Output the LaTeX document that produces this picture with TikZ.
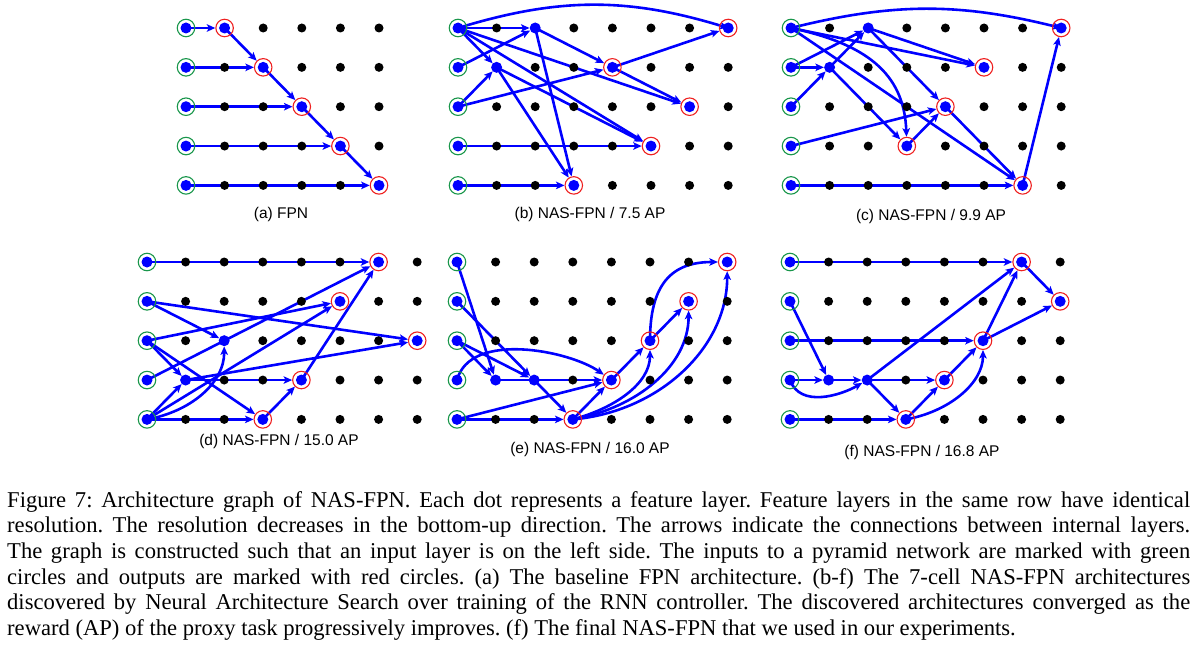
\documentclass[tikz,border=0pt]{standalone}
\usepackage{fontspec}
\setmainfont{Liberation Serif}
\newfontfamily\labelfont{Liberation Sans}
\usetikzlibrary{arrows.meta,backgrounds}

\definecolor{ingreen}{RGB}{25,150,75}
\definecolor{outred}{RGB}{238,32,32}

\tikzset{
  dot/.style={circle,fill=black,inner sep=0pt,minimum size=9pt},
  feat/.style={circle,fill=blue,inner sep=0pt,minimum size=11pt},
  ring/.style={circle,inner sep=0pt,minimum size=17.5pt,line width=1.1pt,
    path picture={\fill[blue] (path picture bounding box.center) circle (5.5pt);}},
  inp/.style={ring,draw=ingreen},
  outp/.style={ring,draw=outred},
  conn/.style={blue,line width=2.6pt,-{Stealth[length=8.5pt,width=7.5pt,inset=2pt]}},
  sublabel/.style={inner sep=0pt,font=\labelfont\fontsize{15.5}{18}\selectfont},
  caption/.style={inner sep=0pt,text width=1183pt,font=\fontsize{22.6}{25.7}\selectfont},
}

% grid of feature layers, 5 rows, columns 0..#1
\newcommand{\dotgrid}[1]{%
  \foreach \c in {0,...,#1}
    \foreach \r in {0,...,4}
      \node[dot] (n\c\r) at (\c*38.6,-\r*39.35) {};
  \foreach \r in {0,...,4}
    \node[inp] (n0\r) at (n0\r) {};
}
% one justified caption line
\newcommand{\capline}[1]{\makebox[1183pt][s]{#1}}

\begin{document}
\begin{tikzpicture}[x=1pt,y=1pt]
\useasboundingbox (0,-658) rectangle (1202,0);

% (a)
\begin{scope}[shift={(186,-28)},name prefix=a-]
\dotgrid{5}
\foreach \n in {n10,n21,n32,n43,n54} \node[outp] (\n) at (\n) {};
\begin{scope}[on background layer]
\foreach \s/\t in {n00/n10,n01/n21,n02/n32,n03/n43,n04/n54,
                   n10/n21,n21/n32,n32/n43,n43/n54}
  \draw[conn] (\s.center) -- (\t);
\end{scope}
\end{scope}

% (b)
\begin{scope}[shift={(458,-28)},name prefix=b-]
\dotgrid{7}
\foreach \n in {n20,n11} \node[feat] (\n) at (\n) {};
\foreach \n in {n70,n41,n62,n53,n34} \node[outp] (\n) at (\n) {};
\begin{scope}[on background layer]
\foreach \s/\t in {n00/n20,n01/n20,n00/n11,n02/n11,n02/n41,n20/n41,
                   n00/n62,n41/n62,n41/n70,n00/n53,n11/n53,n03/n53,
                   n04/n34,n20/n34,n11/n34}
  \draw[conn] (\s.center) -- (\t);
\draw[conn] (n00.center) to[bend left=17] (n70);
\end{scope}
\end{scope}

% (c)
\begin{scope}[shift={(791,-28)},name prefix=c-]
\dotgrid{7}
\foreach \n in {n20,n11} \node[feat] (\n) at (\n) {};
\foreach \n in {n70,n51,n42,n33,n64} \node[outp] (\n) at (\n) {};
\begin{scope}[on background layer]
\foreach \s/\t in {n01/n11,n02/n11,n01/n20,n11/n20,n00/n51,n20/n51,
                   n20/n42,n11/n33,n03/n42,n33/n42,n00/n64,n42/n64,
                   n04/n64,n64/n70}
  \draw[conn] (\s.center) -- (\t);
\draw[conn] (n00.center) to[bend left=14] (n70);
\draw[conn] (n00.center) to[out=-12,in=92,looseness=1.15] (n33);
\end{scope}
\end{scope}

% (d)
\begin{scope}[shift={(147,-262)},name prefix=d-]
\dotgrid{7}
\foreach \n in {n22,n13} \node[feat] (\n) at (\n) {};
\foreach \n in {n60,n51,n72,n43,n34} \node[outp] (\n) at (\n) {};
\begin{scope}[on background layer]
\foreach \s/\t in {n00/n60,n01/n22,n01/n72,n02/n51,n02/n13,n02/n34,
                   n03/n60,n04/n13,n04/n51,n04/n34,n13/n43,n13/n72,
                   n34/n43,n43/n60}
  \draw[conn] (\s.center) -- (\t);
\draw[conn] (n04.center) to[out=10,in=-90] (n22);
\end{scope}
\end{scope}

% (e)
\begin{scope}[shift={(457,-262)},name prefix=e-]
\dotgrid{7}
\foreach \n in {n13,n23} \node[feat] (\n) at (\n) {};
\foreach \n in {n70,n61,n52,n43,n34} \node[outp] (\n) at (\n) {};
\begin{scope}[on background layer]
\foreach \s/\t in {n00/n13,n02/n13,n01/n23,n02/n23,n13/n43,n23/n34,
                   n04/n34,n04/n43,n34/n43,n43/n52,n52/n61}
  \draw[conn] (\s.center) -- (\t);
\draw[conn] (n03.center) to[out=75,in=145,looseness=0.85] (n43);
\draw[conn] (n52.center) to[out=90,in=180,looseness=1.3] (n70);
\draw[conn] (n34.center) to[out=15,in=-90] (n52);
\draw[conn] (n34.center) to[out=10,in=-90] (n61);
\draw[conn] (n34.center) to[out=5,in=-90] (n70);
\end{scope}
\end{scope}

% (f)
\begin{scope}[shift={(790,-262)},name prefix=f-]
\dotgrid{7}
\foreach \n in {n13,n23} \node[feat] (\n) at (\n) {};
\foreach \n in {n60,n71,n52,n43,n34} \node[outp] (\n) at (\n) {};
\begin{scope}[on background layer]
\foreach \s/\t in {n00/n60,n01/n13,n02/n52,n03/n13,n13/n23,n23/n43,
                   n23/n60,n23/n34,n04/n34,n34/n43,n43/n52,n52/n60,
                   n52/n71,n60/n71}
  \draw[conn] (\s.center) -- (\t);
\draw[conn] (n03.center) to[out=-70,in=-150] (n23);
\draw[conn] (n34.center) to[out=10,in=-90] (n52);
\end{scope}
\end{scope}

\node[sublabel] (la) at (281,-214) {(a) FPN};
\node[sublabel] (lb) at (590,-214) {(b) NAS-FPN / 7.5 AP};
\node[sublabel] (lc) at (931,-216) {(c) NAS-FPN / 9.9 AP};
\node[sublabel] (ld) at (279,-441) {(d) NAS-FPN / 15.0 AP};
\node[sublabel] (le) at (590,-449) {(e) NAS-FPN / 16.0 AP};
\node[sublabel] (lf) at (922,-452) {(f) NAS-FPN / 16.8 AP};

\node[caption,anchor=base west] (cap) at (7,-507) {\frenchspacing\spaceskip=0pt\relax\xspaceskip=0pt\relax
\capline{Figure 7: Architecture graph of NAS-FPN. Each dot represents a feature layer. Feature layers in the same row have identical}\\
\capline{resolution. The resolution decreases in the bottom-up direction. The arrows indicate the connections between internal layers.}\\
\capline{The graph is constructed such that an input layer is on the left side. The inputs to a pyramid network are marked with green}\\
\capline{circles and outputs are marked with red circles. (a) The baseline FPN architecture. (b-f) The 7-cell NAS-FPN architectures}\\
\capline{discovered by Neural Architecture Search over training of the RNN controller. The discovered architectures converged as the}\\
reward (AP) of the proxy task progressively improves. (f) The final NAS-FPN that we used in our experiments.};

\end{tikzpicture}
\end{document}
